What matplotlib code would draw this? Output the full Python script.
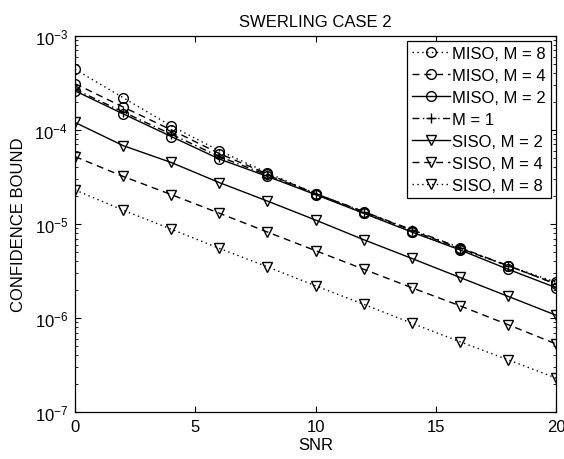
import matplotlib
matplotlib.use("Agg")
import matplotlib.pyplot as plt
from matplotlib.ticker import LogLocator, FixedLocator

plt.rcParams['font.family'] = ['Liberation Sans', 'DejaVu Sans']
plt.rcParams['mathtext.default'] = 'regular'

snr = [0, 2, 4, 6, 8, 10, 12, 14, 16, 18, 20]

miso_m8 = [4.4e-4, 2.2e-4, 1.1e-4, 6.0e-5, 3.5e-5, 2.1e-5, 1.3e-5, 8.3e-6, 5.4e-6, 3.6e-6, 2.4e-6]
miso_m4 = [3.1e-4, 1.75e-4, 1.0e-4, 5.6e-5, 3.4e-5, 2.1e-5, 1.35e-5, 8.5e-6, 5.5e-6, 3.6e-6, 2.3e-6]
miso_m2 = [2.6e-4, 1.48e-4, 8.5e-5, 4.9e-5, 3.2e-5, 2.05e-5, 1.3e-5, 8.2e-6, 5.3e-6, 3.3e-6, 2.1e-6]
m1      = [2.7e-4, 1.55e-4, 9.0e-5, 5.2e-5, 3.3e-5, 2.1e-5, 1.35e-5, 8.7e-6, 5.6e-6, 3.6e-6, 2.3e-6]
siso_m2 = [1.2e-4, 6.8e-5, 4.5e-5, 2.75e-5, 1.75e-5, 1.1e-5, 6.8e-6, 4.3e-6, 2.7e-6, 1.7e-6, 1.07e-6]
siso_m4 = [5.2e-5, 3.2e-5, 2.05e-5, 1.3e-5, 8.2e-6, 5.2e-6, 3.3e-6, 2.1e-6, 1.35e-6, 8.5e-7, 5.3e-7]
siso_m8 = [2.3e-5, 1.4e-5, 8.8e-6, 5.5e-6, 3.5e-6, 2.2e-6, 1.4e-6, 8.8e-7, 5.6e-7, 3.6e-7, 2.3e-7]

labels = ['MISO, M = 8', 'MISO, M = 4', 'MISO, M = 2', 'M = 1',
          'SISO, M = 2', 'SISO, M = 4', 'SISO, M = 8']

DOT = (0, (1, 2.5))
DASH = (0, (5, 3.5))
DASHDOT = (0, (5, 2.5, 1, 2.5))

fig = plt.figure(figsize=(5.64, 4.60), dpi=100)
ax = fig.add_axes([0.133, 0.102, 0.853, 0.818])

common = dict(color='black', linewidth=1.0, markersize=7, fillstyle='none',
              markeredgewidth=1.0)
ax.plot(snr, miso_m8, linestyle=DOT, marker='o', label=labels[0], **common)
ax.plot(snr, miso_m4, linestyle=DASH, marker='o', label=labels[1], **common)
ax.plot(snr, miso_m2, linestyle='-', marker='o', label=labels[2], **common)
ax.plot(snr, m1, linestyle=DASHDOT, marker='+', label=labels[3], **common)
ax.plot(snr, siso_m2, linestyle='-', marker='v', label=labels[4], **common)
ax.plot(snr, siso_m4, linestyle=DASH, marker='v', label=labels[5], **common)
ax.plot(snr, siso_m8, linestyle=DOT, marker='v', label=labels[6], **common)

ax.set_yscale('log')
ax.set_xlim(0, 20)
ax.set_ylim(1e-7, 1e-3)
ax.xaxis.set_major_locator(FixedLocator([0, 5, 10, 15, 20]))
ax.yaxis.set_major_locator(LogLocator(base=10, numticks=10))
ax.yaxis.set_minor_locator(LogLocator(base=10, subs=range(2, 10), numticks=20))
ax.tick_params(which='both', direction='in', top=True, right=True, labelsize=12)
ax.tick_params(which='major', length=4, pad=5)
ax.tick_params(which='minor', length=2)
for s in ax.spines.values():
    s.set_linewidth(0.9)

ax.set_xlabel('SNR', fontsize=12, labelpad=2)
ax.set_ylabel('CONFIDENCE BOUND', fontsize=12, labelpad=6)
ax.set_title('SWERLING CASE 2', fontsize=12, pad=7)

leg = ax.legend(loc='upper right', fontsize=12, fancybox=False, framealpha=1,
                edgecolor='black', handlelength=2.3, handletextpad=0.15,
                labelspacing=0.42, borderaxespad=0.3, borderpad=0.3)
leg.get_frame().set_linewidth(0.9)

fig.savefig('out.png', dpi=100)
